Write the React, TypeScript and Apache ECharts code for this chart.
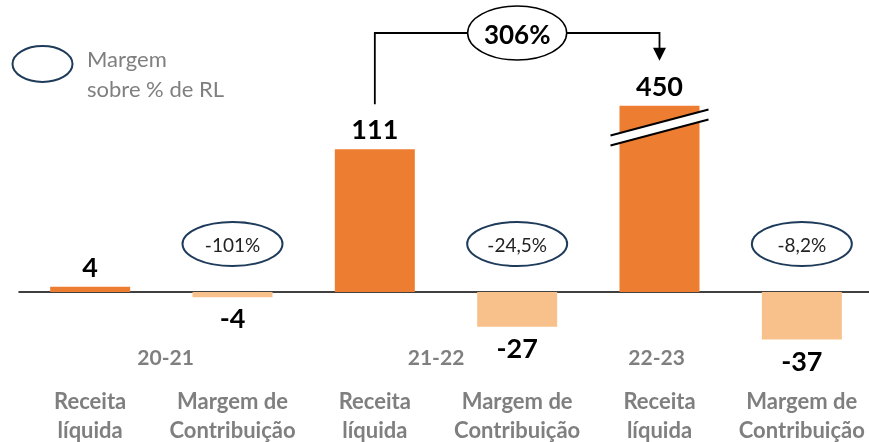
import React, { useEffect, useRef } from "react";
import * as echarts from "echarts";

const categories = [
  "Receita\nlíquida",
  "Margem de\nContribuição",
  "Receita\nlíquida",
  "Margem de\nContribuição",
  "Receita\nlíquida",
  "Margem de\nContribuição",
];
const values = [4, -4, 111, -27, 450, -37];
const marginIndexes = [1, 3, 5];
const marginLabels = ["-101%", "-24,5%", "-8,2%"];
const periodLabels = ["20-21", "21-22", "22-23"];
const growthLabel = "306%";
const legendText = "Margem\nsobre % de RL";
const breakStart = 128;
const breakEnd = 433;

const FONT = "Lato, 'Open Sans', sans-serif";
const ORANGE = "#ED7D31";
const LIGHT = "#F8C18B";
const GRAY = "#7F7F7F";
const NAVY = "#1F3B5A";

export default function App() {
  const ref = useRef<HTMLDivElement>(null);
  useEffect(() => {
    if (!ref.current) return;
    const chart = echarts.init(ref.current, undefined, { renderer: "svg" });
    chart.setOption({
      animation: false,
      grid: { left: 19, right: -4, top: 92.8, bottom: 72.9, containLabel: false, outerBoundsMode: "none" },
      xAxis: {
        type: "category",
        data: categories,
        axisTick: { show: false },
        axisLine: { lineStyle: { color: "#000", width: 1.5 } },
        axisLabel: {
          interval: 0,
          margin: 17,
          color: GRAY,
          fontWeight: "bold",
          fontSize: 22,
          lineHeight: 29,
          fontFamily: FONT,
          hideOverlap: false,
        },
      },
      yAxis: {
        type: "value",
        min: -60,
        max: 460,
        breaks: [{ start: breakStart, end: breakEnd, gap: 0 }],
        breakArea: { show: false },
        axisLine: { show: false },
        axisTick: { show: false },
        axisLabel: { show: false },
        splitLine: { show: false },
      },
      series: [
        {
          type: "bar",
          barWidth: 80,
          data: values.map((v, i) => ({
            value: v,
            itemStyle: { color: i % 2 === 0 ? ORANGE : LIGHT },
            label: { position: v < 0 ? "bottom" : "top" },
          })),
          label: {
            show: true,
            distance: 7,
            fontSize: 27,
            fontWeight: "bold",
            color: "#000",
            fontFamily: FONT,
          },
        },
      ],
    });

    const px = (i: number) => chart.convertToPixel({ xAxisIndex: 0 }, i) as number;
    const py = (v: number) => chart.convertToPixel({ yAxisIndex: 0 }, v) as number;
    const step = px(1) - px(0);
    const g: any[] = [];

    // legend
    g.push({ type: "ellipse", z: 100, shape: { cx: 42.5, cy: 64, rx: 30, ry: 18 }, style: { fill: "none", stroke: NAVY, lineWidth: 2 } });
    g.push({ type: "text", z: 100, x: 87, y: 43, style: { text: legendText, fill: GRAY, font: `22px ${FONT}`, lineHeight: 30 } });

    // margin ellipses
    marginIndexes.forEach((idx, k) => {
      const x = px(idx);
      g.push({ type: "ellipse", z: 100, shape: { cx: x, cy: 244, rx: 50, ry: 22 }, style: { fill: "#fff", stroke: NAVY, lineWidth: 2 } });
      g.push({ type: "text", z: 101, x, y: 244, style: { text: marginLabels[k], fill: "#222", font: `19px ${FONT}`, textAlign: "center", textVerticalAlign: "middle" } });
    });

    // period labels
    const periodOffsets = [0.53, 0.43, -0.02];
    const periodBase = [0, 2, 4];
    periodLabels.forEach((t, k) => {
      g.push({ type: "text", z: 100, x: px(periodBase[k]) + periodOffsets[k] * step, y: 356, style: { text: t, fill: GRAY, font: `bold 21px ${FONT}`, textAlign: "center", textVerticalAlign: "middle" } });
    });

    // growth bracket
    const x2 = px(2);
    const x4 = px(4);
    const yStart = py(values[2]) - 45;
    const yTip = py(values[4]) - 45;
    const yTop = 33;
    const xm = (x2 + x4) / 2;
    const erx = 49.5;
    g.push({ type: "polyline", z: 100, shape: { points: [[x2, yStart], [x2, yTop], [xm - erx, yTop]] }, style: { stroke: "#000", lineWidth: 1.8, fill: "none" } });
    g.push({ type: "polyline", z: 100, shape: { points: [[xm + erx, yTop], [x4, yTop], [x4, yTip - 12]] }, style: { stroke: "#000", lineWidth: 1.8, fill: "none" } });
    g.push({ type: "polygon", z: 100, shape: { points: [[x4 - 6.5, yTip - 13], [x4 + 6.5, yTip - 13], [x4, yTip]] }, style: { fill: "#000" } });
    g.push({ type: "ellipse", z: 100, shape: { cx: xm, cy: yTop, rx: erx, ry: 27 }, style: { fill: "#fff", stroke: "#000", lineWidth: 1.5 } });
    g.push({ type: "text", z: 101, x: xm, y: yTop + 1, style: { text: growthLabel, fill: "#000", font: `bold 26px ${FONT}`, textAlign: "center", textVerticalAlign: "middle" } });

    // break slash on the big bar
    const yc = py(breakStart);
    const hw = 49;
    const dy = 13;
    g.push({ type: "polygon", z: 100, shape: { points: [[x4 - hw, yc - 5 + dy], [x4 + hw, yc - 5 - dy], [x4 + hw, yc + 5 - dy], [x4 - hw, yc + 5 + dy]] }, style: { fill: "#fff" } });
    g.push({ type: "line", z: 101, shape: { x1: x4 - hw, y1: yc - 5 + dy, x2: x4 + hw, y2: yc - 5 - dy }, style: { stroke: "#000", lineWidth: 2 } });
    g.push({ type: "line", z: 101, shape: { x1: x4 - hw, y1: yc + 5 + dy, x2: x4 + hw, y2: yc + 5 - dy }, style: { stroke: "#000", lineWidth: 2 } });

    chart.setOption({ graphic: g });
    return () => chart.dispose();
  }, []);
  return <div ref={ref} style={{ position: "fixed", left: 0, top: 0, width: 869, height: 442 }} />;
}
